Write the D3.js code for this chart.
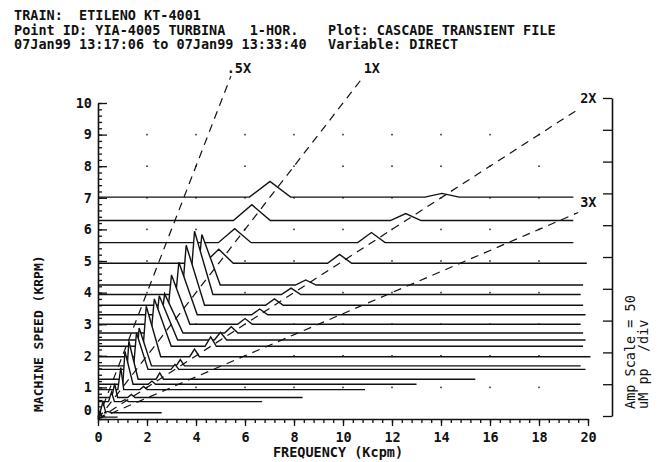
<!DOCTYPE html>
<html>
<head>
<meta charset="utf-8">
<script src="https://cdn.jsdelivr.net/npm/d3@7"></script>
<style>
  body { margin: 0; background: #fff; }
  svg text { font-family: "DejaVu Sans Mono", monospace; font-weight: bold; fill: #111; white-space: pre; }
</style>
</head>
<body>
<svg id="chart" width="658" height="462"></svg>
<script>
// header text
const headerLeft = ['TRAIN:  ETILENO KT-4001', 'Point ID: YIA-4005 TURBINA   1-HOR.', '07Jan99 13:17:06 to 07Jan99 13:33:40'];
const headerRight = ['', 'Plot: CASCADE TRANSIENT FILE', 'Variable: DIRECT'];

// one spectrum per machine speed (KRPM), from the back (top) to the front
const speeds  = [7.02, 6.28, 5.58, 4.93, 4.24, 3.94, 3.60, 3.30, 3.00, 2.72, 2.50, 2.30, 1.97, 1.68, 1.57, 1.26, 1.10, 0.93, 0.68, 0.55, 0.20, 0.06];
// 1X and 2X amplitudes, uM pp
const amp1X   = [25, 25, 22, 22, 80, 100, 95, 83, 78, 62, 70, 75, 80, 60, 58, 60, 52, 35, 22, 15, 17, 8];
const amp2X   = [6, 11, 16, 14, 8, 10, 10, 9, 9, 10, 12, 15, 12, 10, 8, 10, 5, 5, 5, 3, 2, 0];
// last frequency of each spectrum, Kcpm
const spanEnd = [19.4, 19.4, 19.4, 19.95, 19.8, 19.7, 19.8, 19.9, 19.7, 19.8, 19.9, 19.8, 20.1, 19.7, 19.9, 15.4, 13.0, 10.9, 8.35, 6.7, 2.6, 0.8];

const orders = [0.5, 1, 2, 3];
const orderLabels = ['.5X', '1X', '2X', '3X'];

const freqTicks = d3.range(0, 21, 2);
const speedTicks = d3.range(0, 11);
const gridFreq = [2, 4, 6, 8, 10, 12, 14, 16, 18];
const gridSpeed = [1, 2, 3, 4, 5, 6, 7, 8, 9];
const umPerDiv = 50;

const svg = d3.select('#chart');
const x = d3.scaleLinear().domain([0, 20]).range([98, 588]);
const y = d3.scaleLinear().domain([0, 10]).range([419, 103]);
const ampAxisY = d3.scaleLinear().domain([0, 10]).range([416, 98]);

// header
const hdr = svg.append('g').style('font-size', '13.5px');
headerLeft.forEach((t, i) => hdr.append('text').attr('x', 14).attr('y', 20 + i * 14.7).text(t));
headerRight.forEach((t, i) => hdr.append('text').attr('x', 328).attr('y', 20 + i * 14.7).text(t));

// grid dots
gridSpeed.forEach(s => gridFreq.forEach(f => {
  svg.append('rect').attr('x', x(f) - 0.8).attr('y', y(s) - 0.8)
    .attr('width', 1.6).attr('height', 1.6).attr('fill', '#333');
}));

// axes
const axisStyle = g => {
  g.selectAll('path.domain').attr('stroke', '#111').attr('stroke-width', 1.6);
  g.selectAll('.tick line').attr('stroke', '#111').attr('stroke-width', 1.3);
  g.selectAll('text').attr('font-family', null).style('font-size', '13.5px').attr('fill', '#111');
};

const yAxis = svg.append('g').attr('transform', 'translate(98,0)')
  .call(d3.axisLeft(y).tickValues(speedTicks).tickSize(-9).tickSizeOuter(0).tickPadding(6).tickFormat(d3.format('d')))
  .call(axisStyle);
yAxis.selectAll('.tick').filter(d => d === 0).select('text').attr('dy', '-0.35em');
svg.append('g').attr('transform', 'translate(98,0)')
  .call(d3.axisLeft(y).tickValues(d3.range(0, 51).map(i => i / 5)).tickSize(-4).tickFormat(''))
  .call(g => g.select('.domain').remove()).call(axisStyle);

svg.append('g').attr('transform', 'translate(0,419)')
  .call(d3.axisBottom(x).tickValues(freqTicks).tickSize(7).tickSizeOuter(0).tickPadding(6).tickFormat(d3.format('d')))
  .call(axisStyle);
svg.append('g').attr('transform', 'translate(0,419)')
  .call(d3.axisBottom(x).tickValues(d3.range(0, 51).map(i => i * 0.4)).tickSize(4).tickFormat(''))
  .call(g => g.select('.domain').remove()).call(axisStyle);

// amplitude scale axis on the right
svg.append('g').attr('transform', 'translate(612,0)')
  .call(d3.axisLeft(ampAxisY).tickValues(speedTicks).tickSize(9).tickSizeOuter(0).tickFormat(''))
  .call(axisStyle);

// axis titles
svg.append('text').attr('transform', 'translate(43,412) rotate(-90)')
  .style('font-size', '13px').text('MACHINE SPEED (KRPM)');
svg.append('text').attr('x', 338).attr('y', 457).attr('text-anchor', 'middle')
  .style('font-size', '13.5px').text('FREQUENCY (Kcpm)');
svg.append('text').attr('transform', 'translate(635,409) rotate(-90)')
  .style('font-size', '13.5px').style('font-weight', 'normal').text('Amp Scale = ' + umPerDiv);
svg.append('text').attr('transform', 'translate(648,409) rotate(-90)')
  .style('font-size', '13.5px').style('font-weight', 'normal').text('uM pp  /div');

// spectra, drawn back to front with hidden-line fill
function spectrum(i) {
  const s = speeds[i], end = spanEnd[i];
  const a1 = amp1X[i] / umPerDiv, a2 = amp2X[i] / umPerDiv;
  const tall = a1 >= 1;
  const peaks = [{
    f: s, a: a1,
    wl: tall ? Math.min(0.2, 0.08 * s) : Math.max(0.12, 0.12 * s),
    wr: tall ? Math.min(0.75, 0.3 * s) : Math.max(0.12, 0.12 * s)
  }];
  const w2 = Math.max(0.15, 0.1 * s);
  if (a2 > 0 && 2 * s + w2 < end) peaks.push({ f: 2 * s, a: a2, wl: w2, wr: w2 });
  const pts = [[0, 0]];
  peaks.forEach(p => {
    if (p.f - p.wl > 0) pts.push([p.f - p.wl, 0]);
    pts.push([p.f, p.a]);
    pts.push([Math.min(p.f + p.wr, end), 0]);
  });
  pts.push([end, 0]);
  return pts;
}

const specG = svg.append('g');
speeds.forEach((s, i) => {
  const pts = spectrum(i);
  const area = d3.area().x(d => x(d[0])).y0(y(s)).y1(d => y(s + d[1]));
  const line = d3.line().x(d => x(d[0])).y(d => y(s + d[1]));
  specG.append('path').attr('d', area(pts)).attr('fill', '#fff');
  specG.append('path').attr('d', line(pts)).attr('fill', 'none')
    .attr('stroke', '#111').attr('stroke-width', 1.4).attr('stroke-linejoin', 'miter');
});

// order lines
orders.forEach((n, i) => {
  const top = Math.min(10.85, 19.6 / n);
  svg.append('line')
    .attr('x1', x(0)).attr('y1', y(0)).attr('x2', x(top * n)).attr('y2', y(top))
    .attr('stroke', '#111').attr('stroke-width', 1.2).attr('stroke-dasharray', '8,6');
  const lab = svg.append('text').style('font-size', '13.5px').text(orderLabels[i]);
  if (n < 2) lab.attr('x', x(top * n) + 8).attr('y', y(top) - 3).attr('text-anchor', 'middle');
  else lab.attr('x', x(top * n) + 2).attr('y', y(top) - 6);
});
</script>
</body>
</html>
